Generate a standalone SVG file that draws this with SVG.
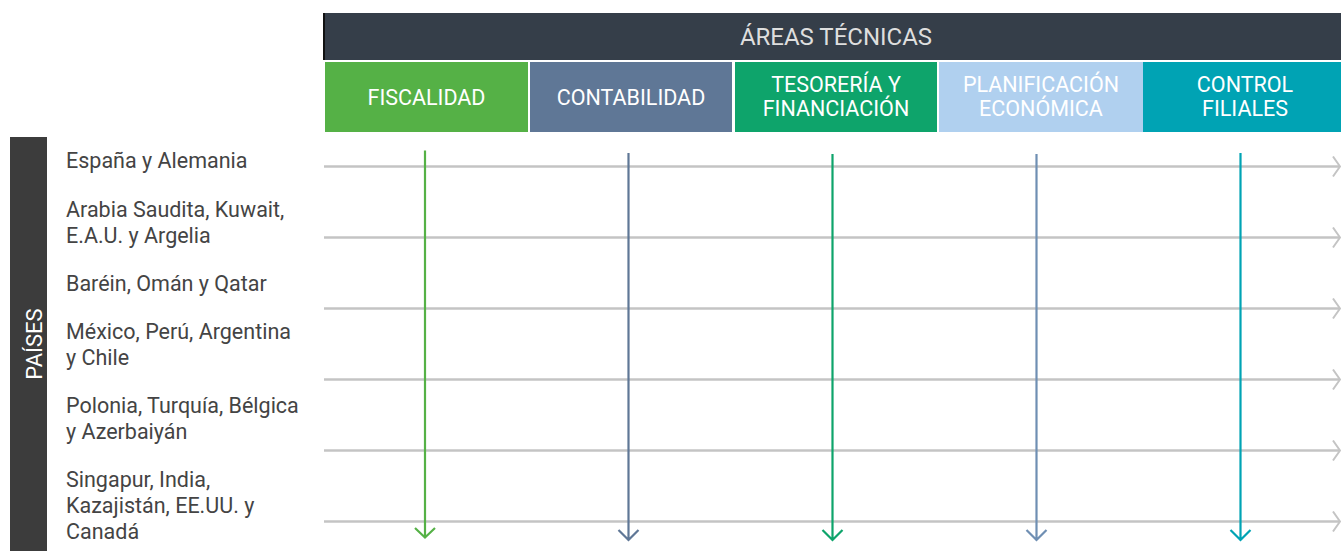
<svg xmlns="http://www.w3.org/2000/svg" width="1341" height="551" viewBox="0 0 1341 551">
<style>
.col{font-family:Roboto,"Liberation Sans",sans-serif;font-size:21.5px;fill:#ffffff;text-anchor:middle}
.ctry{font-family:Roboto,"Liberation Sans",sans-serif;font-size:21.5px;fill:#444444}
.hl{stroke:#c4c4c4;stroke-width:2.5;fill:none}
.va{stroke-width:2.2;fill:none}
</style>
<defs>
<marker id="hchev" viewBox="0 0 10 22" refX="9" refY="11" markerWidth="10" markerHeight="22" markerUnits="userSpaceOnUse" orient="auto">
<path d="M2,1 L9,11 L2,21" fill="none" stroke="#c4c4c4" stroke-width="2"/>
</marker>
</defs>
<rect width="1341" height="551" fill="#ffffff"/>
<g id="header">
<rect x="323" y="13" width="1018" height="47" fill="#353e49"/>
<rect x="323" y="13" width="2" height="47" fill="#111111"/>
<text x="836" y="45" font-family="Roboto,'Liberation Sans',sans-serif" font-size="24" fill="#dedede" text-anchor="middle">ÁREAS TÉCNICAS</text>
</g>
<g id="col-fiscalidad">
<rect x="325" y="62" width="203" height="70" fill="#55b146"/>
<text class="col" x="426.5" y="105">FISCALIDAD</text>
</g>
<g id="col-contabilidad">
<rect x="530" y="62" width="202" height="70" fill="#5f7796"/>
<text class="col" x="631" y="105">CONTABILIDAD</text>
</g>
<g id="col-tesoreria">
<rect x="735" y="62" width="202" height="70" fill="#0ea46b"/>
<text class="col" x="836" y="92">TESORERÍA Y</text>
<text class="col" x="836" y="116">FINANCIACIÓN</text>
</g>
<g id="col-planificacion">
<rect x="939" y="62" width="204" height="70" fill="#b0d0ef"/>
<text class="col" x="1041" y="92">PLANIFICACIÓN</text>
<text class="col" x="1041" y="116">ECONÓMICA</text>
</g>
<g id="col-control">
<rect x="1143" y="62" width="198" height="70" fill="#00a3b4"/>
<text class="col" x="1245" y="92">CONTROL</text>
<text class="col" x="1245" y="116">FILIALES</text>
</g>
<g id="paises">
<rect x="10" y="137" width="37" height="414" fill="#3c3c3c"/>
<text x="0" y="0" transform="translate(42,344) rotate(-90)" font-family="Roboto,'Liberation Sans',sans-serif" font-size="22" fill="#ffffff" text-anchor="middle">PAÍSES</text>
</g>
<g id="countries">
<text class="ctry" x="66" y="168">España y Alemania</text>
<text class="ctry" x="66" y="217">Arabia Saudita, Kuwait,</text>
<text class="ctry" x="66" y="243">E.A.U. y Argelia</text>
<text class="ctry" x="66" y="291">Baréin, Omán y Qatar</text>
<text class="ctry" x="66" y="339">México, Perú, Argentina</text>
<text class="ctry" x="66" y="365">y Chile</text>
<text class="ctry" x="66" y="413">Polonia, Turquía, Bélgica</text>
<text class="ctry" x="66" y="439">y Azerbaiyán</text>
<text class="ctry" x="66" y="487">Singapur, India,</text>
<text class="ctry" x="66" y="513">Kazajistán, EE.UU. y</text>
<text class="ctry" x="66" y="539">Canadá</text>
</g>
<g id="connectors">
<line class="hl" x1="324" y1="166.5" x2="1340" y2="166.5" marker-end="url(#hchev)"/>
<line class="hl" x1="324" y1="237.5" x2="1340" y2="237.5" marker-end="url(#hchev)"/>
<line class="hl" x1="324" y1="308.5" x2="1340" y2="308.5" marker-end="url(#hchev)"/>
<line class="hl" x1="324" y1="379.5" x2="1340" y2="379.5" marker-end="url(#hchev)"/>
<line class="hl" x1="324" y1="450.5" x2="1340" y2="450.5" marker-end="url(#hchev)"/>
<line class="hl" x1="324" y1="521.5" x2="1340" y2="521.5" marker-end="url(#hchev)"/>
<path class="va" stroke="#55b146" d="M425,150.5 V537 M415,528 L425,537.5 L435,528"/>
<path class="va" stroke="#5f7796" d="M628.5,153 V539 M618.5,530 L628.5,540 L638.5,530"/>
<path class="va" stroke="#0ea46b" d="M832.5,154 V539 M822.5,530 L832.5,540 L842.5,530"/>
<path class="va" stroke="#6f8fb3" d="M1036.5,154 V539 M1026.5,530 L1036.5,540 L1046.5,530"/>
<path class="va" stroke="#00a3b4" d="M1240.5,153 V539 M1230.5,530 L1240.5,540 L1250.5,530"/>
</g>
</svg>
